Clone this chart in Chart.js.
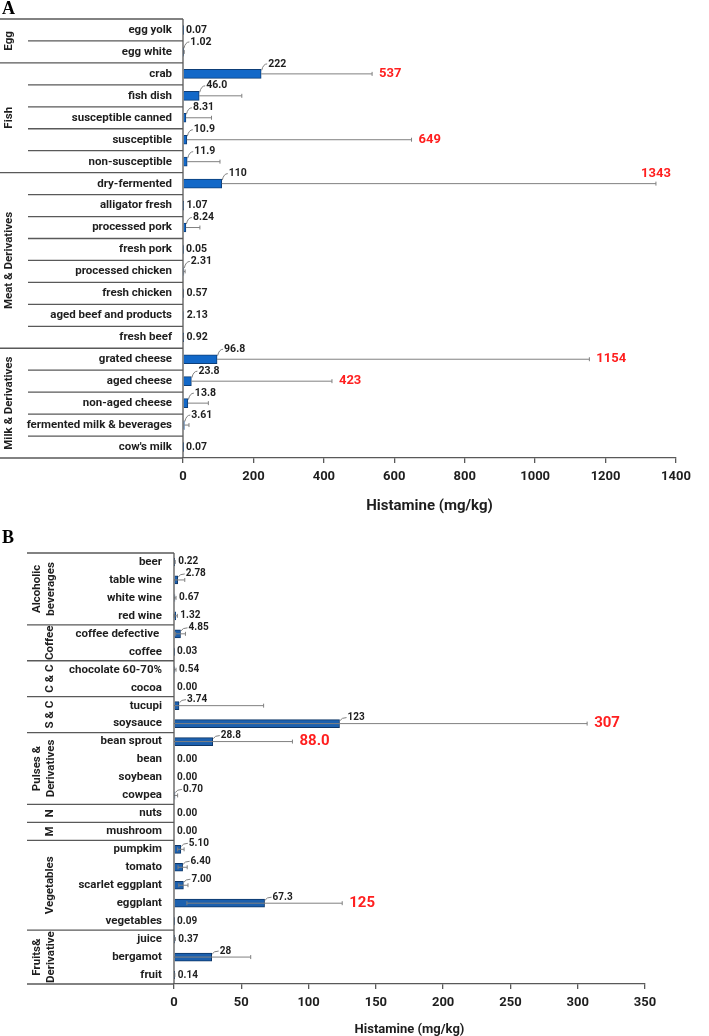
<!DOCTYPE html>
<html lang="en">
<head>
<meta charset="UTF-8">
<title>Histamine content</title>
<script src="https://cdn.jsdelivr.net/npm/chart.js@4.4.1/dist/chart.umd.min.js"></script>
<style>
  html, body { margin: 0; padding: 0; background: #fff; }
  #wrap { position: relative; width: 709px; height: 1036px; }
  canvas { position: absolute; left: 0; }
</style>
</head>
<body>
<div id="wrap">
  <canvas id="chartA" width="709" height="518" style="top:0"></canvas>
  <canvas id="chartB" width="709" height="518" style="top:518px"></canvas>
</div>
<script>
// ---- panel A data ----
const groupNamesA = ['Egg', 'Fish', 'Meat & Derivatives', 'Milk & Derivatives'];
const groupSizesA = [2, 5, 8, 5];
const categoriesA = ['egg yolk', 'egg white', 'crab', 'fish dish', 'susceptible canned', 'susceptible',
  'non-susceptible', 'dry-fermented', 'alligator fresh', 'processed pork', 'fresh pork', 'processed chicken',
  'fresh chicken', 'aged beef and products', 'fresh beef', 'grated cheese', 'aged cheese', 'non-aged cheese',
  'fermented milk & beverages', "cow's milk"];
const meansA = [0.07, 1.02, 222, 46.0, 8.31, 10.9, 11.9, 110, 1.07, 8.24, 0.05, 2.31, 0.57, 2.13, 0.92,
  96.8, 23.8, 13.8, 3.61, 0.07];
const upperA = [null, 3.5, 537, 167, 81, 649, 105, 1343, null, 48, null, 6, 1.2, null, 1.6,
  1154, 423, 72, 17, null];
const meanTextA = ['0.07', '1.02', '222', '46.0', '8.31', '10.9', '11.9', '110', '1.07', '8.24', '0.05', '2.31',
  '0.57', '2.13', '0.92', '96.8', '23.8', '13.8', '3.61', '0.07'];
const upperTextA = [null, null, '537', null, null, '649', null, '1343', null, null, null, null, null, null, null,
  '1154', '423', null, null, null];
const ticksA = [0, 200, 400, 600, 800, 1000, 1200, 1400];

// ---- panel B data ----
const groupNamesB = [['Alcoholic', 'beverages'], 'Coffee', 'C & C', 'S & C', ['Pulses &', 'Derivatives'],
  'N', 'M', 'Vegetables', ['Fruits&', 'Derivative']];
const groupSizesB = [4, 2, 2, 2, 4, 1, 1, 5, 3];
const categoriesB = ['beer', 'table wine', 'white wine', 'red wine', 'coffee defective ', 'coffee',
  'chocolate 60-70%', 'cocoa', 'tucupi', 'soysauce', 'bean sprout', 'bean', 'soybean', 'cowpea', 'nuts',
  'mushroom', 'pumpkim', 'tomato', 'scarlet eggplant', 'eggplant', 'vegetables', 'juice', 'bergamot', 'fruit'];
const meansB = [0.22, 2.78, 0.67, 1.32, 4.85, 0.03, 0.54, 0.00, 3.74, 123, 28.8, 0.00, 0.00, 0.70, 0.00,
  0.00, 5.10, 6.40, 7.00, 67.3, 0.09, 0.37, 28, 0.14];
const upperB = [0.9, 8, 1.5, 2.5, 8.5, null, 1.5, null, 66.6, 307, 88.0, null, null, 2.7, null,
  null, 7.5, 9.8, 10.4, 125, null, 1.0, 57, 0.6];
const meanTextB = ['0.22', '2.78', '0.67', '1.32', '4.85', '0.03', '0.54', '0.00', '3.74', '123', '28.8', '0.00',
  '0.00', '0.70', '0.00', '0.00', '5.10', '6.40', '7.00', '67.3', '0.09', '0.37', '28', '0.14'];
const upperTextB = [null, null, null, null, null, null, null, null, null, '307', '88.0', null, null, null, null,
  null, null, null, null, '125', null, null, null, null];
const ticksB = [0, 50, 100, 150, 200, 250, 300, 350];

const INK = '#1e1e1e', AXIS = '#595959', ERR = '#808080', RED = '#ff1f1f';
const FONT = 'Roboto';

// error bars, value labels, label column, group labels
const panelPlugin = {
  id: 'panel',
  afterDatasetsDraw(chart, args, o) {
    const { ctx, chartArea: ca, scales: { x, y } } = chart;
    ctx.save();
    ctx.textBaseline = 'middle';
    o.means.forEach((v, i) => {
      const up = o.upper[i];
      const yc = y.getPixelForValue(i);
      const xv = x.getPixelForValue(v);
      ctx.lineWidth = 1;
      ctx.strokeStyle = ERR;
      if (up != null) {
        const lo = o.twoSided ? Math.max(0, 2 * v - up) : v;
        const x0 = x.getPixelForValue(lo), x1 = x.getPixelForValue(up);
        ctx.beginPath();
        ctx.moveTo(x0, yc); ctx.lineTo(x1, yc);
        ctx.moveTo(x1, yc - 2); ctx.lineTo(x1, yc + 2);
        if (o.twoSided && lo > 0) { ctx.moveTo(x0, yc - 2); ctx.lineTo(x0, yc + 2); }
        ctx.stroke();
      }
      ctx.font = `bold ${o.valueSize}px ${FONT}`;
      ctx.fillStyle = INK;
      ctx.textAlign = 'left';
      if (up != null && up - v >= 2) {
        const lx = xv + o.leadDx, ly = yc - o.leadDy;
        ctx.beginPath();
        ctx.moveTo(xv + 0.5, yc - o.barThickness / 2 + 1);
        ctx.quadraticCurveTo(xv + 2, ly, lx - 1, ly);
        ctx.stroke();
        ctx.fillText(o.meanText[i], lx, ly);
      } else {
        const xe = up != null ? Math.max(xv, x.getPixelForValue(up)) : xv;
        ctx.fillText(o.meanText[i], xe + 3, yc);
      }
      const rt = o.upperText[i];
      if (rt) {
        const x1 = x.getPixelForValue(up);
        ctx.font = `bold ${o.redSize}px ${FONT}`;
        ctx.fillStyle = RED;
        const w = ctx.measureText(rt).width;
        if (x1 + 7 + w > ca.right + 6) {
          ctx.textAlign = 'center';
          ctx.fillText(rt, x1, yc - 10);
        } else {
          ctx.fillText(rt, x1 + 7, yc);
        }
      }
    });
    ctx.restore();
  },
  afterDraw(chart, args, o) {
    const { ctx, chartArea: ca, scales: { y } } = chart;
    const n = o.categories.length;
    const rowH = (ca.bottom - ca.top) / n;
    const starts = [];
    let k = 0;
    o.groupSizes.forEach(sz => { starts.push(k); k += sz; });

    ctx.save();
    ctx.strokeStyle = AXIS;
    ctx.lineWidth = 1.3;
    ctx.beginPath();
    ctx.moveTo(ca.left, ca.top); ctx.lineTo(ca.left, ca.bottom);
    ctx.moveTo(o.frameLeft, ca.bottom); ctx.lineTo(ca.left, ca.bottom);
    for (let r = 0; r < n; r++) {
      const yy = ca.top + r * rowH;
      if (starts.includes(r)) {
        ctx.moveTo(o.frameLeft, yy); ctx.lineTo(ca.left, yy);
      } else if (o.rowLines) {
        ctx.moveTo(o.rowLineLeft, yy); ctx.lineTo(ca.left, yy);
      }
    }
    ctx.stroke();

    ctx.fillStyle = INK;
    ctx.font = `bold ${o.catSize}px ${FONT}`;
    ctx.textAlign = 'right';
    ctx.textBaseline = 'middle';
    o.categories.forEach((c, i) => ctx.fillText(c, ca.left - o.labelGap, y.getPixelForValue(i)));

    ctx.textAlign = 'center';
    o.groupNames.forEach((g, gi) => {
      const lines = Array.isArray(g) ? g : [g];
      const yc = ca.top + (starts[gi] + o.groupSizes[gi] / 2) * rowH;
      const xc = lines.length > 1 ? o.groupX2 : o.groupX1;
      ctx.save();
      ctx.translate(xc, yc);
      ctx.rotate(-Math.PI / 2);
      lines.forEach((ln, li) => ctx.fillText(ln, 0, (li - (lines.length - 1) / 2) * o.groupLineGap));
      ctx.restore();
    });

    ctx.font = 'bold 18px "Liberation Serif"';
    ctx.textAlign = 'left';
    ctx.textBaseline = 'alphabetic';
    ctx.fillStyle = '#000';
    ctx.fillText(o.letter, 2, o.letterY);
    ctx.restore();
  }
};

function makePanel(id, cfg) {
  return new Chart(document.getElementById(id), {
    type: 'bar',
    data: {
      labels: cfg.categories,
      datasets: [{
        data: cfg.means,
        backgroundColor: cfg.barColor,
        borderColor: cfg.barEdge,
        borderWidth: 1,
        barThickness: cfg.barThickness
      }]
    },
    options: {
      responsive: false,
      animation: false,
      indexAxis: 'y',
      layout: { padding: { top: cfg.top, left: cfg.left, right: cfg.right, bottom: 0 } },
      plugins: { legend: { display: false }, tooltip: { enabled: false }, panel: cfg },
      scales: {
        y: { display: false },
        x: {
          min: 0,
          max: cfg.ticks[cfg.ticks.length - 1],
          afterBuildTicks: s => { s.ticks = cfg.ticks.map(v => ({ value: v })); },
          ticks: {
            color: INK, padding: cfg.tickPad,
            font: { family: FONT, weight: 'bold', size: 13 },
            callback: v => String(v)
          },
          grid: { drawOnChartArea: false, drawTicks: true, tickLength: 5, color: AXIS, lineWidth: 1.3 },
          border: { color: AXIS, width: 1.3 },
          title: {
            display: true, text: 'Histamine (mg/kg)', color: INK,
            font: { family: FONT, weight: 'bold', size: cfg.titleSize },
            padding: { top: 0, bottom: cfg.titlePad }
          },
          afterFit: s => { s.height = cfg.axisHeight; }
        }
      }
    },
    plugins: [panelPlugin]
  });
}

makePanel('chartA', {
  categories: categoriesA, means: meansA, upper: upperA, meanText: meanTextA, upperText: upperTextA,
  groupNames: groupNamesA, groupSizes: groupSizesA, ticks: ticksA,
  letter: 'A', letterY: 14, barColor: '#1268c8', barEdge: '#0d3e78',
  top: 19, left: 183, right: 33, axisHeight: 60, titleSize: 15, titlePad: 3, tickPad: 6,
  frameLeft: 0, rowLines: true, rowLineLeft: 28, labelGap: 11,
  groupX1: 9.5, groupX2: 9.5, groupLineGap: 14,
  catSize: 11.5, valueSize: 10.5, redSize: 13, leadDx: 7, leadDy: 10, barThickness: 9, twoSided: false
});

makePanel('chartB', {
  categories: categoriesB, means: meansB, upper: upperB, meanText: meanTextB, upperText: upperTextB,
  groupNames: groupNamesB, groupSizes: groupSizesB, ticks: ticksB,
  letter: 'B', letterY: 25, barColor: '#1c60ae', barEdge: '#0d3566',
  top: 35, left: 174, right: 64, axisHeight: 52, titleSize: 13, titlePad: -2, tickPad: 6,
  frameLeft: 27, rowLines: false, rowLineLeft: 27, labelGap: 12,
  groupX1: 50, groupX2: 44, groupLineGap: 14,
  catSize: 11.5, valueSize: 10, redSize: 15, leadDx: 8, leadDy: 6, barThickness: 8, twoSided: true
});
</script>
</body>
</html>
